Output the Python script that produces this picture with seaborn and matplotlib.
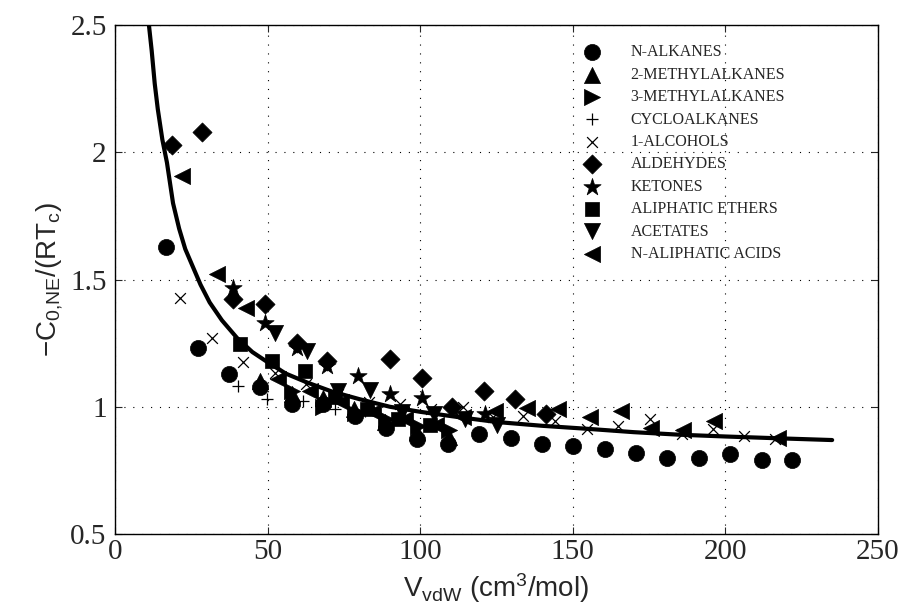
import numpy as np
import matplotlib
matplotlib.use("Agg")
import matplotlib.pyplot as plt
import seaborn as sns

# model curve, points
curve_x = [11.1, 12, 13, 14, 15.5, 17, 19, 21, 23, 25.5, 28, 31, 35, 40, 45, 50, 56, 63, 71, 80,
           90, 100, 112, 125, 140, 155, 170, 185, 200, 217, 235]
curve_y = [2.50, 2.40, 2.27, 2.17, 2.05, 1.96, 1.80, 1.70, 1.62, 1.55, 1.48, 1.41, 1.34, 1.27, 1.215,
           1.175, 1.13, 1.095, 1.06, 1.03, 1.00, 0.98, 0.96, 0.94, 0.925, 0.913, 0.90, 0.89, 0.883, 0.876, 0.869]

alkanes_x = [16.7, 27.3, 37.5, 47.5, 57.9, 68.3, 78.6, 88.8, 98.8, 109.2, 119.4, 129.6, 139.8, 150.1, 160.4, 170.7, 181.0, 191.3, 201.5, 211.9, 221.7]
alkanes_y = [1.628, 1.232, 1.127, 1.078, 1.010, 1.010, 0.964, 0.915, 0.873, 0.853, 0.892, 0.879, 0.853, 0.846, 0.833, 0.820, 0.800, 0.800, 0.815, 0.792, 0.792]

me2_x = [47.5, 57.9, 68.3, 78.3, 88.6, 98.8, 109.5]
me2_y = [1.100, 1.049, 1.036, 0.990, 0.940, 0.900, 0.880]

me3_x = [57.9, 68.3, 78.6, 88.9, 99.2, 109.5]
me3_y = [1.060, 1.000, 0.975, 0.950, 0.925, 0.910]

cyclo_x = [40.4, 49.7, 61.7, 72.1, 81.9]
cyclo_y = [1.082, 1.029, 1.023, 0.990, 0.984]

alcohols_x = [21.3, 31.7, 42.0, 52.4, 62.7, 73.0, 83.3, 93.4, 103.7, 114.1, 124.0, 133.8, 144.2, 154.5, 164.9, 175.3, 185.7, 196.0, 206.0, 216.3]
alcohols_y = [1.428, 1.271, 1.176, 1.134, 1.090, 1.050, 1.020, 1.010, 0.990, 1.000, 0.958, 0.964, 0.944, 0.912, 0.925, 0.951, 0.892, 0.912, 0.886, 0.873]

aldehydes_x = [18.6, 28.4, 38.8, 49.1, 59.5, 69.4, 90.1, 100.5, 110.5, 120.9, 131.0, 141.2]
aldehydes_y = [2.029, 2.078, 1.422, 1.405, 1.250, 1.180, 1.186, 1.114, 0.997, 1.062, 1.029, 0.970]

ketones_x = [38.8, 49.1, 59.5, 69.4, 79.7, 90.1, 100.5, 110.9, 121.2]
ketones_y = [1.467, 1.330, 1.230, 1.160, 1.121, 1.049, 1.036, 0.990, 0.970]

ethers_x = [41.0, 51.3, 62.3, 72.1, 82.5, 92.8, 103.1]
ethers_y = [1.245, 1.180, 1.140, 1.040, 0.990, 0.950, 0.930]

acetates_x = [52.4, 62.8, 73.2, 83.6, 94.0, 104.4, 114.8, 125.2]
acetates_y = [1.290, 1.220, 1.060, 1.065, 0.980, 0.970, 0.950, 0.930]

acids_x = [21.8, 33.3, 43.0, 53.5, 63.9, 74.2, 84.6, 94.9, 105.3, 114.0, 124.5, 134.9, 145.3, 155.6, 165.8, 175.8, 186.2, 196.4, 217.3]
acids_y = [1.905, 1.520, 1.390, 1.108, 1.060, 1.020, 0.980, 0.950, 0.930, 0.960, 0.985, 0.995, 0.990, 0.958, 0.985, 0.918, 0.910, 0.942, 0.879]

sns.set_style("ticks")
plt.rcParams['font.family'] = ['Liberation Serif', 'DejaVu Serif']
plt.rcParams['mathtext.default'] = 'regular'

fig = plt.figure(figsize=(9.06, 6.13), dpi=100)
ax = fig.add_axes([0.127, 0.129, 0.842, 0.830])

series = [
    (alkanes_x, alkanes_y, 'o', 135, 'N-ALKANES'),
    (me2_x, me2_y, '^', 135, '2-METHYLALKANES'),
    (me3_x, me3_y, '>', 135, '3-METHYLALKANES'),
    (cyclo_x, cyclo_y, '+', 80, 'CYCLOALKANES'),
    (alcohols_x, alcohols_y, 'x', 60, '1-ALCOHOLS'),
    (aldehydes_x, aldehydes_y, 'D', 95, 'ALDEHYDES'),
    (ketones_x, ketones_y, '*', 170, 'KETONES'),
    (ethers_x, ethers_y, 's', 100, 'ALIPHATIC ETHERS'),
    (acetates_x, acetates_y, 'v', 135, 'ACETATES'),
    (acids_x, acids_y, '<', 135, 'N-ALIPHATIC ACIDS'),
]

for xs, ys, mk, sz, name in series:
    if mk in ('+', 'x'):
        sns.scatterplot(x=xs, y=ys, marker=mk, s=sz, color='k', linewidth=0.9, label=name, ax=ax)
    else:
        sns.scatterplot(x=xs, y=ys, marker=mk, s=sz, color='k', edgecolor='k', linewidth=0.5, label=name, ax=ax)

sns.lineplot(x=curve_x, y=curve_y, color='k', linewidth=3, ax=ax, zorder=5, sort=False)

ax.set_xlim(0, 250)
ax.set_ylim(0.5, 2.5)
ax.set_xticks([0, 50, 100, 150, 200, 250])
ax.set_yticks([0.5, 1, 1.5, 2, 2.5])
ax.set_yticklabels(['0.5', '1', '1.5', '2', '2.5'])
ax.tick_params(direction='in', top=True, right=True, length=5, width=0.8, labelsize=21)
ax.tick_params(axis='x', pad=4)
ax.tick_params(axis='y', pad=6)
ax.grid(True, color='k', linestyle=(0, (1, 7)), linewidth=0.8)
for sp in ax.spines.values():
    sp.set_color('k')
    sp.set_linewidth(1.0)

lab_font = ['Liberation Sans', 'DejaVu Sans']
ax.set_xlabel(r'V$_{vdW}$ (cm$^3$/mol)', fontsize=20, family=lab_font, labelpad=4)
ax.set_ylabel(r'$-$C$_{0{,}NE}$/(RT$_c$)', fontsize=20, family=lab_font, labelpad=4)

leg = ax.legend(loc='upper left', bbox_to_anchor=(0.615, 0.962), frameon=False,
                fontsize=11.5, handlelength=1.0, handletextpad=1.9, labelspacing=0.40,
                borderpad=0, borderaxespad=0)

fig.savefig('out.png', dpi=100)
